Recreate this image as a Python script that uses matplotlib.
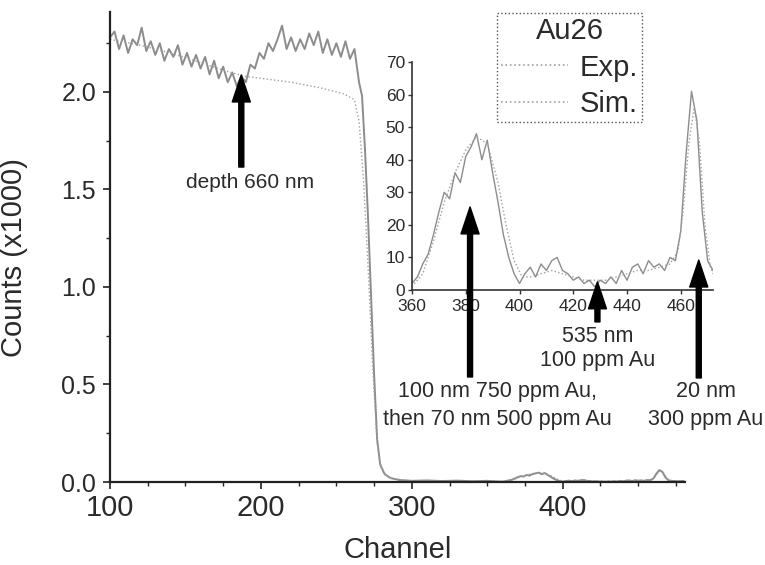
import numpy as np
import matplotlib
matplotlib.use('Agg')
import matplotlib.pyplot as plt
from matplotlib.ticker import MultipleLocator, FormatStrFormatter

plt.rcParams['font.family'] = ['Liberation Sans', 'DejaVu Sans']

# main spectrum, plateau and edge (counts x1000)
main_ch = [100, 103, 106, 109, 112, 115, 118, 121, 124, 127, 130, 133, 136, 139,
           142, 145, 148, 151, 154, 157, 160, 163, 166, 169, 172, 175, 178, 181,
           184, 187, 190, 193, 196, 199, 202, 205, 208, 211, 214, 217, 220, 223,
           226, 229, 232, 235, 238, 241, 244, 247, 250, 253, 256, 259, 262, 265,
           267, 269, 271, 273, 275, 277, 279, 282, 286, 292, 300, 310, 320, 330,
           340, 350, 356]
main_exp = [2.28, 2.31, 2.22, 2.29, 2.20, 2.27, 2.24, 2.33, 2.21, 2.26, 2.19, 2.25,
            2.16, 2.22, 2.18, 2.24, 2.14, 2.20, 2.13, 2.19, 2.12, 2.18, 2.09, 2.16,
            2.07, 2.13, 2.05, 2.10, 2.03, 2.08, 2.05, 2.14, 2.12, 2.20, 2.17, 2.25,
            2.21, 2.27, 2.34, 2.22, 2.28, 2.21, 2.27, 2.22, 2.30, 2.24, 2.31, 2.20,
            2.27, 2.19, 2.25, 2.18, 2.26, 2.17, 2.22, 2.05,
            1.98, 1.70, 1.35, 0.95, 0.55, 0.22, 0.09, 0.04, 0.02, 0.01, 0.006, 0.008,
            0.005, 0.007, 0.004, 0.006, 0.003]

sim_ch = [100, 120, 140, 160, 180, 190, 200, 220, 240, 255, 262, 265, 268, 271,
          274, 277, 280, 285, 300, 330, 356]
sim_val = [2.27, 2.24, 2.20, 2.15, 2.10, 2.08, 2.07, 2.05, 2.02, 1.99, 1.96, 1.85,
           1.55, 1.10, 0.60, 0.20, 0.06, 0.02, 0.005, 0.003, 0.002]

# Au region (counts), also shown in the inset
au_ch = [360, 362, 364, 366, 368, 370, 372, 374, 376, 378, 380, 382, 384, 386,
         388, 390, 392, 394, 396, 398, 400, 402, 404, 406, 408, 410, 412, 414,
         416, 418, 420, 422, 424, 426, 428, 430, 432, 434, 436, 438, 440, 442,
         444, 446, 448, 450, 452, 454, 456, 458, 460, 462, 464, 466, 468, 470, 472]
au_exp = [2, 4, 8, 11, 17, 24, 30, 28, 36, 33, 41, 44, 48, 40,
          46, 36, 27, 17, 10, 5, 2, 5, 7, 4, 8, 6, 9, 10,
          6, 5, 3, 4, 2, 3, 1, 3, 2, 4, 2, 6, 3, 7,
          8, 5, 9, 7, 8, 6, 10, 9, 18, 42, 61, 52, 24, 9, 6]
au_sim_ch = [360, 364, 368, 372, 376, 380, 384, 388, 392, 395, 398, 401, 404, 408,
             412, 416, 420, 424, 428, 432, 436, 440, 444, 448, 452, 456, 459, 461,
             463, 465, 467, 469, 471, 472]
au_sim = [1, 5, 15, 27, 36, 43, 47, 45, 33, 20, 9, 4, 4, 5,
          6, 5, 4, 3, 3, 3, 4, 5, 6, 6, 7, 8, 12, 25,
          45, 56, 45, 20, 7, 5]

tail_ch = [476, 480]
tail_exp = [4, 5]

EXP_C = '#8c8c8c'
SIM_C = '#a0a0a0'
TXT_C = '#2a2a2a'

fig = plt.figure(figsize=(7.65, 5.65), dpi=100)
ax = fig.add_axes([110 / 765, 1 - 482 / 565, 575 / 765, 470 / 565])

x_all = main_ch + au_ch + tail_ch
y_all = main_exp + [v / 1000 for v in au_exp] + [v / 1000 for v in tail_exp]
xs_all = sim_ch + au_sim_ch
ys_all = sim_val + [v / 1000 for v in au_sim]
ax.plot(x_all, y_all, color=EXP_C, lw=1.4)
ax.plot(xs_all, ys_all, color=SIM_C, lw=1.0, ls=':')

ax.set_xlim(100, 481)
ax.set_ylim(0, 2.41)
for s in ['top', 'right']:
    ax.spines[s].set_visible(False)
for s in ['left', 'bottom']:
    ax.spines[s].set_color('#222222')
    ax.spines[s].set_linewidth(1.6)
ax.xaxis.set_major_locator(MultipleLocator(100))
ax.xaxis.set_minor_locator(MultipleLocator(25))
ax.yaxis.set_major_locator(MultipleLocator(0.5))
ax.yaxis.set_minor_locator(MultipleLocator(0.25))
ax.yaxis.set_major_formatter(FormatStrFormatter('%.1f'))
ax.tick_params(which='major', direction='out', length=5, width=1.2, color='#222222')
ax.tick_params(which='minor', direction='out', length=3, width=1.0, color='#222222')
ax.tick_params(axis='x', labelsize=21, pad=4, labelcolor=TXT_C)
ax.tick_params(axis='y', labelsize=18, pad=5, labelcolor=TXT_C)
ax.set_xlabel('Channel', fontsize=21, color=TXT_C)
ax.xaxis.set_label_coords(0.5, -0.115)
ax.set_ylabel('Counts (x1000)', fontsize=21, color=TXT_C)
ax.yaxis.set_label_coords(-0.143, 0.477)

arrow_style = 'simple,head_length=0.97,head_width=0.65,tail_width=0.18'
arrow_props = dict(arrowstyle=arrow_style, mutation_scale=20, color='black',
                   shrinkA=0, shrinkB=0)

ax.annotate('', xy=(187, 2.087), xytext=(187, 1.615), arrowprops=arrow_props)
ax.text(192.5, 1.535, 'depth 660 nm', ha='center', va='center', fontsize=15, color=TXT_C)

# inset
ins = fig.add_axes([412 / 765, 1 - 290 / 565, 301 / 765, 228 / 565])
ins.patch.set_visible(False)
ins.plot(au_ch, au_exp, color=EXP_C, lw=1.0)
ins.plot(au_sim_ch, au_sim, color=SIM_C, lw=1.0, ls=':')
ins.set_xlim(360, 472)
ins.set_ylim(0, 70)
for s in ['top', 'right']:
    ins.spines[s].set_visible(False)
for s in ['left', 'bottom']:
    ins.spines[s].set_color('#333333')
    ins.spines[s].set_linewidth(1.2)
    ins.spines[s].set_linestyle((0, (1, 1)))
ins.xaxis.set_major_locator(MultipleLocator(20))
ins.yaxis.set_major_locator(MultipleLocator(10))
ins.tick_params(direction='out', length=3, width=1.0, color='#333333',
                labelsize=12.5, labelcolor=TXT_C)
ins.tick_params(axis='x', pad=3.5)
ins.tick_params(axis='y', pad=2)

ins.annotate('', xy=(381.6, 25.5), xytext=(381.6, -26.7), arrowprops=arrow_props,
             annotation_clip=False)
ins.annotate('', xy=(429, 2.5), xytext=(429, -9.8), arrowprops=arrow_props,
             annotation_clip=False)
ins.annotate('', xy=(466.7, 9.2), xytext=(466.7, -27), arrowprops=arrow_props,
             annotation_clip=False)
ins.text(391.7, -35.5, '100 nm 750 ppm Au,\nthen 70 nm 500 ppm Au', ha='center',
         va='center', fontsize=15.5, linespacing=1.45, color=TXT_C)
ins.text(429, -18, '535 nm\n100 ppm Au', ha='center', va='center', fontsize=15.5,
         linespacing=1.2, color=TXT_C)
ins.text(469.3, -35.5, '20 nm\n300 ppm Au', ha='center', va='center', fontsize=15.5,
         linespacing=1.45, color=TXT_C)

h1, = ax.plot([], [], color=SIM_C, lw=1.2, ls=':')
h2, = ax.plot([], [], color=SIM_C, lw=1.2, ls=':')
leg = fig.legend([h1, h2], ['Exp.', 'Sim.'], title='Au26', fontsize=21,
                 title_fontsize=21, loc='upper left',
                 bbox_to_anchor=(497 / 765, 1 - 13 / 565), borderaxespad=0,
                 fancybox=False, framealpha=1, borderpad=0.15, labelspacing=0.28,
                 handlelength=2.3, handletextpad=0.38)
leg.get_frame().set_edgecolor('#555555')
leg.get_frame().set_linestyle(':')
leg.get_frame().set_linewidth(1.0)
for t in leg.get_texts():
    t.set_color(TXT_C)
leg.get_title().set_color(TXT_C)

fig.savefig('out.png', dpi=100)
